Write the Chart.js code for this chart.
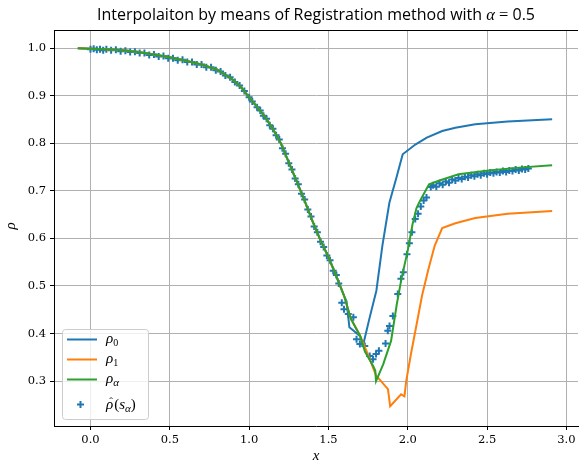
<!DOCTYPE html>
<html>
<head>
<meta charset="utf-8">
<script src="https://cdn.jsdelivr.net/npm/chart.js@4.4.1/dist/chart.umd.min.js"></script>
<style>
  html, body { margin: 0; padding: 0; background: #fff; overflow: hidden; }
  #wrap { width: 584px; height: 464px; }
</style>
</head>
<body>
<div id="wrap"><canvas id="chart" width="584" height="464"></canvas></div>
<script>
// shared descent (all three curves coincide here)
const descentX = [-0.08, 0.0, 0.1, 0.2, 0.3, 0.4, 0.5, 0.6, 0.7, 0.8, 0.9, 0.95, 1.0, 1.05, 1.1, 1.15, 1.2, 1.25, 1.3, 1.35, 1.4, 1.45, 1.5, 1.55, 1.6];
const descentY = [1.000, 0.999, 0.998, 0.996, 0.992, 0.987, 0.981, 0.974, 0.966, 0.955, 0.933, 0.918, 0.897, 0.877, 0.856, 0.830, 0.800, 0.760, 0.720, 0.679, 0.636, 0.596, 0.561, 0.520, 0.478];

// rho_0 tail
const rho0TailX = [1.614, 1.632, 1.698, 1.72, 1.76, 1.802, 1.84, 1.884, 1.93, 1.968, 2.05, 2.12, 2.217, 2.3, 2.425, 2.63, 2.91];
const rho0TailY = [0.468, 0.413, 0.395, 0.378, 0.434, 0.490, 0.585, 0.675, 0.730, 0.777, 0.798, 0.812, 0.826, 0.833, 0.840, 0.846, 0.851];

// rho_1 tail
const rho1TailX = [1.64, 1.70, 1.739, 1.80, 1.875, 1.889, 1.958, 1.979, 1.99, 2.02, 2.06, 2.09, 2.13, 2.17, 2.217, 2.3, 2.425, 2.63, 2.91];
const rho1TailY = [0.432, 0.395, 0.364, 0.312, 0.283, 0.247, 0.272, 0.268, 0.300, 0.357, 0.427, 0.480, 0.535, 0.585, 0.622, 0.632, 0.643, 0.652, 0.658];

// rho_alpha tail
const rhoATailX = [1.64, 1.70, 1.73, 1.78, 1.795, 1.80, 1.845, 1.895, 1.93, 1.96, 2.0, 2.03, 2.055, 2.08, 2.134, 2.2, 2.32, 2.51, 2.7, 2.91];
const rhoATailY = [0.432, 0.395, 0.362, 0.333, 0.322, 0.300, 0.335, 0.385, 0.460, 0.515, 0.575, 0.630, 0.664, 0.681, 0.714, 0.722, 0.735, 0.743, 0.749, 0.754];

// rho_hat(s_alpha) samples
const sampleX = [0.00, 0.02, 0.04, 0.06, 0.08, 0.10, 0.13, 0.16, 0.19, 0.22, 0.25, 0.28, 0.31, 0.34, 0.37, 0.40, 0.43, 0.46, 0.49, 0.52,
  0.55, 0.58, 0.61, 0.64, 0.67, 0.70, 0.73, 0.76, 0.79, 0.82, 0.85, 0.88, 0.91, 0.94, 0.97, 1.00, 1.02, 1.05, 1.07, 1.09,
  1.11, 1.13, 1.15, 1.17, 1.19, 1.21, 1.23, 1.25, 1.27, 1.29, 1.31, 1.33, 1.35, 1.37, 1.39, 1.41, 1.43, 1.45, 1.47, 1.49,
  1.51, 1.53, 1.55, 1.565, 1.584, 1.598, 1.625, 1.657, 1.677, 1.698, 1.729, 1.76, 1.781, 1.80, 1.818, 1.86, 1.874, 1.885, 1.906, 1.937,
  1.957, 1.972, 1.995, 2.01, 2.026, 2.047, 2.065, 2.082, 2.10, 2.118, 2.145,
  2.16, 2.18, 2.20, 2.22, 2.24, 2.26, 2.28, 2.30, 2.32, 2.34, 2.36, 2.38, 2.40, 2.42, 2.44, 2.46, 2.48, 2.50, 2.52, 2.54,
  2.56, 2.58, 2.60, 2.62, 2.64, 2.66, 2.68, 2.70, 2.72, 2.74, 2.76];
const sampleY = [0.998, 0.999, 0.997, 0.998, 0.996, 0.998, 0.996, 0.997, 0.994, 0.995, 0.992, 0.993, 0.990, 0.990, 0.986, 0.987, 0.983, 0.984, 0.979, 0.979,
  0.975, 0.976, 0.971, 0.971, 0.966, 0.966, 0.960, 0.960, 0.954, 0.951, 0.943, 0.939, 0.929, 0.922, 0.910, 0.897, 0.888, 0.876, 0.869, 0.858,
  0.852, 0.838, 0.831, 0.817, 0.808, 0.790, 0.778, 0.758, 0.745, 0.726, 0.714, 0.694, 0.682, 0.661, 0.646, 0.625, 0.613, 0.593, 0.582, 0.564,
  0.554, 0.532, 0.523, 0.505, 0.465, 0.451, 0.441, 0.434, 0.388, 0.378, 0.374, 0.353, 0.346, 0.357, 0.364, 0.379, 0.406, 0.416, 0.437, 0.483,
  0.515, 0.529, 0.567, 0.590, 0.613, 0.641, 0.652, 0.667, 0.680, 0.686, 0.708,
  0.712, 0.709, 0.716, 0.713, 0.720, 0.717, 0.724, 0.722, 0.727, 0.725, 0.730, 0.728, 0.733, 0.731, 0.735, 0.733, 0.737, 0.735, 0.739, 0.737,
  0.740, 0.739, 0.742, 0.740, 0.743, 0.742, 0.745, 0.743, 0.746, 0.745, 0.747];

const xTicks = [0.0, 0.5, 1.0, 1.5, 2.0, 2.5, 3.0];
const yTicks = [0.3, 0.4, 0.5, 0.6, 0.7, 0.8, 0.9, 1.0];

const BLUE = '#1f77b4', ORANGE = '#ff7f0e', GREEN = '#2ca02c';
const SERIF = '"DejaVu Serif", "Liberation Serif", serif';
const MSERIF = '"Liberation Serif", "DejaVu Serif", serif';
const TITLE_FONT = '16px "Open Sans", sans-serif';

function toPoints(xs, ys) {
    return xs.map((x, i) => ({ x: x, y: ys[i] }));
}

function lineSet(label, xs, ys, color, order) {
    return {
        label: label,
        data: toPoints(xs, ys),
        showLine: true,
        borderColor: color,
        borderWidth: 2,
        pointRadius: 0,
        fill: false,
        order: order
    };
}

// draw a label with sub/superscripts, parts = [[text, font, dy, extra], ...]
function drawParts(ctx, x, y, parts) {
    parts.forEach(p => {
        ctx.font = p[1];
        ctx.fillText(p[0], x, y + p[2]);
        x += ctx.measureText(p[0]).width + (p[3] || 0);
    });
}

function partsWidth(ctx, parts) {
    let w = 0;
    parts.forEach(p => {
        ctx.font = p[1];
        w += ctx.measureText(p[0]).width + (p[3] || 0);
    });
    return w;
}

const framePlugin = {
    id: 'frame',
    afterDraw(chart) {
        const ctx = chart.ctx;
        const a = chart.chartArea;
        ctx.save();
        // top spine
        ctx.strokeStyle = '#000';
        ctx.lineWidth = 1;
        ctx.beginPath();
        ctx.moveTo(a.left, a.top + 0.5);
        ctx.lineTo(a.right, a.top + 0.5);
        ctx.stroke();

        // title
        ctx.fillStyle = '#000';
        ctx.textBaseline = 'alphabetic';
        ctx.textAlign = 'left';
        const mid = (a.left + a.right) / 2;
        const title = [
            ['Interpolaiton by means of Registration method with ', TITLE_FONT, 0],
            ['α', 'italic 16.5px ' + MSERIF, 0],
            [' = ', '16.5px ' + MSERIF, 0],
            ['0.5', TITLE_FONT, 0]
        ];
        const tw = partsWidth(ctx, title);
        drawParts(ctx, mid - tw / 2, 20, title);

        // axis labels
        ctx.textAlign = 'center';
        ctx.font = 'italic 15px ' + MSERIF;
        ctx.fillText('x', mid, 460);
        ctx.translate(15, 226);
        ctx.rotate(-Math.PI / 2);
        ctx.fillText('ρ', 0, 0);
        ctx.restore();

        // legend
        ctx.save();
        const lx = 62.5, ly = 329.5, lw = 86, lh = 90;
        ctx.beginPath();
        ctx.roundRect(lx, ly, lw, lh, 3);
        ctx.fillStyle = 'rgba(255,255,255,0.8)';
        ctx.fill();
        ctx.strokeStyle = '#cccccc';
        ctx.lineWidth = 1;
        ctx.stroke();

        const rows = [339.5, 359.5, 379.5];
        [BLUE, ORANGE, GREEN].forEach((c, i) => {
            ctx.strokeStyle = c;
            ctx.lineWidth = 2;
            ctx.beginPath();
            ctx.moveTo(67, rows[i]);
            ctx.lineTo(97, rows[i]);
            ctx.stroke();
        });
        // marker
        ctx.strokeStyle = BLUE;
        ctx.lineWidth = 2;
        ctx.beginPath();
        ctx.moveTo(77, 404.5); ctx.lineTo(84, 404.5);
        ctx.moveTo(80.5, 401); ctx.lineTo(80.5, 408);
        ctx.stroke();

        ctx.fillStyle = '#000';
        ctx.textAlign = 'left';
        ctx.textBaseline = 'alphabetic';
        const big = 'italic 15px ' + MSERIF;
        const sub = '10px ' + MSERIF;
        const subI = 'italic 11px ' + MSERIF;
        drawParts(ctx, 106, rows[0] + 3, [['ρ', big, 0], ['0', sub, 3]]);
        drawParts(ctx, 106, rows[1] + 3, [['ρ', big, 0], ['1', sub, 3]]);
        drawParts(ctx, 106, rows[2] + 3, [['ρ', big, 0], ['α', subI, 3]]);
        // rho hat (s_alpha)
        const by = 404.5 + 4;
        ctx.font = big;
        const rw = ctx.measureText('ρ').width;
        ctx.font = '11px ' + MSERIF;
        ctx.textAlign = 'center';
        ctx.fillText('ˆ', 106 + rw / 2 + 1.5, by - 4);
        ctx.textAlign = 'left';
        drawParts(ctx, 106, by, [['ρ', big, 0, 1], ['(', '15px ' + MSERIF, 0], ['s', big, 0], ['α', subI, 3], [')', '15px ' + MSERIF, 0]]);
        ctx.restore();
    }
};

const tickFont = { family: SERIF, size: 11.5 };

new Chart(document.getElementById('chart'), {
    type: 'scatter',
    data: {
        datasets: [
            lineSet('ρ0', descentX.concat(rho0TailX), descentY.concat(rho0TailY), BLUE, 3),
            lineSet('ρ1', descentX.concat(rho1TailX), descentY.concat(rho1TailY), ORANGE, 2),
            lineSet('ρα', descentX.concat(rhoATailX), descentY.concat(rhoATailY), GREEN, 1),
            {
                label: 'ρ̂(sα)',
                data: toPoints(sampleX, sampleY),
                pointStyle: 'cross',
                pointRadius: 3.5,
                pointBorderWidth: 2,
                pointBorderColor: BLUE,
                pointBackgroundColor: BLUE,
                showLine: false,
                order: 4
            }
        ]
    },
    options: {
        responsive: false,
        animation: false,
        devicePixelRatio: 1,
        layout: { padding: { top: 30, left: 0, right: 0, bottom: 0 } },
        plugins: {
            legend: { display: false },
            title: { display: false },
            tooltip: { enabled: false }
        },
        scales: {
            x: {
                type: 'linear',
                min: -0.23,
                max: 3.073,
                afterBuildTicks: s => { s.ticks = xTicks.map(v => ({ value: v })); },
                afterFit: s => { s.height = 38; },
                ticks: {
                    callback: v => v.toFixed(1),
                    font: tickFont,
                    color: '#000',
                    padding: 3,
                    maxRotation: 0,
                    autoSkip: false
                },
                grid: { color: '#b0b0b0', lineWidth: 1, tickColor: '#000', tickLength: 4 },
                border: { color: '#000', width: 1 }
            },
            y: {
                type: 'linear',
                min: 0.2055,
                max: 1.0385,
                afterBuildTicks: s => { s.ticks = yTicks.map(v => ({ value: v })); },
                afterFit: s => { s.width = 54; },
                ticks: {
                    callback: v => v.toFixed(1),
                    font: tickFont,
                    color: '#000',
                    padding: 4,
                    autoSkip: false
                },
                grid: { color: '#b0b0b0', lineWidth: 1, tickColor: '#000', tickLength: 4 },
                border: { color: '#000', width: 1 }
            }
        }
    },
    plugins: [framePlugin]
});
</script>
</body>
</html>
